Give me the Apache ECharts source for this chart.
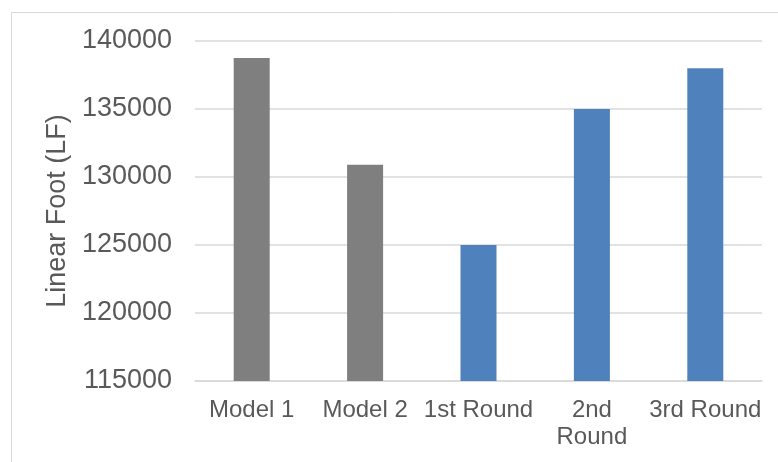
<!DOCTYPE html>
<html>
<head>
<meta charset="utf-8">
<script src="https://cdn.jsdelivr.net/npm/echarts@6/dist/echarts.min.js"></script>
<style>
  html, body { margin: 0; padding: 0; background: #ffffff; }
  #chart { width: 778px; height: 462px; }
</style>
</head>
<body>
<div id="chart"></div>
<script>
// Linear footage per design option
const categories = ['Model 1', 'Model 2', '1st Round', '2nd\nRound', '3rd Round'];
const values = [138750, 130900, 125000, 135000, 138000];
const groups = ['model', 'model', 'round', 'round', 'round'];
const yTicks = [115000, 120000, 125000, 130000, 135000, 140000];

const groupColor = { model: '#7f7f7f', round: '#4f81bd' };
const textColor = '#595959';
const lineColor = '#d9d9d9';
const font = '"Liberation Sans", Arial, sans-serif';

const chart = echarts.init(document.getElementById('chart'), null, { renderer: 'canvas' });

chart.setOption({
  animation: false,
  backgroundColor: '#ffffff',
  textStyle: { fontFamily: font },
  graphic: [{
    type: 'rect',
    shape: { x: 11.5, y: 12.5, width: 900, height: 600 },
    style: { fill: 'none', stroke: lineColor, lineWidth: 1 },
    silent: true,
    z: -1
  }],
  grid: { left: 195, right: 16, top: 41, bottom: 81, containLabel: false },
  xAxis: {
    type: 'category',
    data: categories,
    axisLine: { show: true, lineStyle: { color: lineColor, width: 1.5 } },
    axisTick: { show: false },
    axisLabel: {
      color: textColor,
      fontSize: 24,
      fontFamily: font,
      margin: 16,
      lineHeight: 27,
      interval: 0
    }
  },
  yAxis: {
    type: 'value',
    min: yTicks[0],
    max: yTicks[yTicks.length - 1],
    interval: yTicks[1] - yTicks[0],
    name: 'Linear Foot (LF)',
    nameLocation: 'middle',
    nameRotate: 90,
    nameGap: 118,
    nameTextStyle: { color: textColor, fontSize: 27, fontFamily: font },
    axisLine: { show: false },
    axisTick: { show: false },
    splitLine: { show: true, lineStyle: { color: lineColor, width: 1.5 } },
    axisLabel: {
      color: textColor,
      fontSize: 27,
      fontFamily: font,
      margin: 23,
      formatter: v => String(v)
    }
  },
  series: [{
    type: 'bar',
    barWidth: 36,
    data: values.map((v, i) => ({
      value: v,
      itemStyle: { color: groupColor[groups[i]] }
    }))
  }]
});
</script>
</body>
</html>
